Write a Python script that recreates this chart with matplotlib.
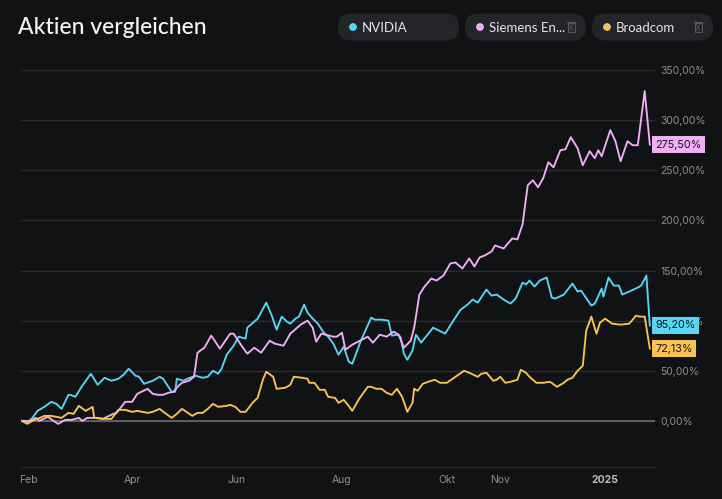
import matplotlib
matplotlib.use("Agg")
import matplotlib.pyplot as plt
import numpy as np
from matplotlib.patches import FancyBboxPatch, Circle, Rectangle

# ---------------- data ----------------
START = np.datetime64("2024-01-28")

nvda_days = [0, 3, 6, 9, 13, 17, 20, 23, 27, 28, 31, 35, 40, 44, 48, 52, 56, 59, 62, 66,
             68, 71, 76, 80, 82, 87, 89, 90, 94, 96, 101, 105, 108, 111, 114, 116, 119, 123,
             126, 130, 131, 137, 142, 145, 148, 151, 154, 156, 159, 161, 164, 166, 169, 172,
             175, 178, 181, 184, 187, 190, 192, 197, 203, 205, 209, 213, 215, 218, 220, 222,
             224, 227, 229, 232, 239, 246, 250, 255, 259, 262, 265, 270, 273, 276, 280, 284,
             287, 291, 293, 295, 298, 301, 305, 308, 310, 315, 320, 323, 325, 331, 333, 337,
             338, 341, 344, 347, 349, 353, 358, 360, 363, 365]
nvda_vals = [0, -2, 3, 10, 14, 19, 17, 12, 26, 26, 24, 35, 47, 36, 43, 40, 42, 46, 52, 45,
             44, 37, 40, 44, 42, 29, 29, 42, 40, 42, 45, 43, 44, 50, 47, 52, 66, 75,
             84, 82, 93, 102, 118, 106, 91, 104, 99, 97, 102, 104, 116, 108, 102, 97,
             89, 84, 77, 66, 74, 59, 57, 80, 103, 101, 101, 100, 85, 86, 84, 67,
             61, 70, 86, 78, 93, 87, 98, 111, 116, 121, 118, 131, 125, 126, 121, 117,
             122, 138, 136, 140, 134, 140, 143, 123, 122, 126, 137, 129, 130, 115, 117, 132,
             124, 143, 135, 135, 126, 129, 133, 135, 145, 95.20]

enr_days = [0, 5, 8, 10, 15, 21, 25, 29, 33, 35, 38, 44, 47, 53, 55, 60, 64, 67, 73, 76,
            79, 82, 85, 88, 91, 93, 97, 100, 102, 106, 110, 112, 115, 117, 121, 123, 128,
            131, 135, 139, 144, 147, 152, 156, 162, 166, 169, 171, 174, 181, 183, 186, 188,
            192, 201, 204, 208, 212, 216, 219, 222, 226, 228, 231, 234, 238, 241, 245, 249,
            252, 256, 260, 263, 266, 269, 273, 275, 280, 285, 288, 291, 294, 297, 300, 303,
            306, 309, 313, 316, 319, 323, 326, 330, 333, 335, 337, 342, 345, 348, 352, 355,
            358, 362, 365]
enr_vals = [0, 0, 3, 0, 4, -3, 1, 1, 3, 0, 3, 3, 2, 7, 8, 19, 19, 27, 32, 27,
            26, 26, 28, 29, 35, 38, 40, 44, 68, 73, 85, 80, 72, 77, 87, 87, 74,
            67, 73, 68, 80, 77, 75, 87, 96, 100, 93, 79, 87, 84, 84, 88, 71,
            76, 84, 78, 86, 84, 89, 86, 73, 80, 93, 126, 134, 142, 140, 145, 157,
            158, 152, 162, 154, 163, 165, 169, 175, 172, 182, 181, 196, 235, 240, 233, 242,
            258, 253, 270, 271, 283, 272, 255, 269, 262, 270, 264, 290, 279, 259, 279, 275,
            275, 329, 275.50]

avgo_days = [0, 3, 6, 9, 13, 17, 23, 27, 30, 33, 37, 41, 42, 47, 52, 56, 60, 64, 67, 73,
             76, 80, 83, 87, 90, 93, 99, 102, 105, 108, 111, 114, 119, 121, 124, 127, 130,
             134, 137, 140, 142, 146, 148, 153, 156, 158, 163, 166, 167, 170, 173, 176, 178,
             182, 184, 187, 189, 192, 196, 201, 203, 206, 209, 212, 215, 218, 221, 224, 227,
             228, 230, 233, 236, 240, 243, 247, 252, 257, 260, 265, 267, 270, 274, 276, 278,
             281, 284, 288, 290, 293, 295, 299, 303, 307, 311, 315, 317, 320, 323, 326, 328,
             331, 334, 336, 339, 343, 348, 353, 357, 359, 362, 365]
avgo_vals = [0, -3, 0, 2, 5, 5, 3, 8, 7, 15, 10, 14, 3, 2, 2, 11, 11, 9, 10, 8,
             9, 12, 8, 3, 7, 12, 5, 8, 8, 12, 17, 14, 15, 16, 14, 9, 9,
             18, 23, 41, 49, 44, 32, 33, 36, 44, 43, 42, 38, 38, 31, 31, 24,
             23, 18, 21, 17, 10, 22, 34, 34, 32, 32, 28, 26, 32, 24, 9, 18,
             32, 30, 37, 39, 41, 38, 38, 44, 50, 48, 44, 47, 48, 40, 41, 44,
             38, 39, 41, 51, 48, 44, 38, 38, 39, 34, 38, 41, 43, 50, 55, 90,
             104, 87, 98, 102, 97, 96, 97, 105, 104, 104, 72.13]

series_names = ["NVIDIA", "Siemens Energy", "Broadcom"]
legend_labels = ["NVIDIA", "Siemens En...", "Broadcom"]
series_days = [nvda_days, enr_days, avgo_days]
series_vals = [nvda_vals, enr_vals, avgo_vals]
series_colors = ["#55d7f3", "#f0aef5", "#f8c255"]

y_ticks = [0, 50, 100, 150, 200, 250, 300, 350]
month_dates = ["2024-02-01", "2024-04-01", "2024-06-01", "2024-08-01",
               "2024-10-01", "2024-11-01", "2025-01-01"]
month_labels = ["Feb", "Apr", "Jun", "Aug", "Okt", "Nov", "2025"]

title = "Aktien vergleichen"

# ---------------- style ----------------
BG = "#111214"
PILL = "#232529"
GRID = "#2a2c30"
ZERO = "#6a6b6e"
TICK = "#8c8e92"

W, H = 722, 499
fig = plt.figure(figsize=(W / 100, H / 100), dpi=100)
fig.patch.set_facecolor(BG)

ax = fig.add_axes([21 / W, 1 - 467 / H, (655 - 21) / W, (467 - 62) / H])
ax.set_facecolor(BG)
ax.set_xlim(-0.6, 368)
ax.set_ylim(-46, 358)

for side in ["top", "left", "right"]:
    ax.spines[side].set_visible(False)
ax.spines["bottom"].set_color("#25272a")
ax.spines["bottom"].set_linewidth(1.0)

ax.set_axisbelow(True)
ax.yaxis.grid(True, color=GRID, linewidth=1.0)
ax.axhline(0, color=ZERO, linewidth=1.2, zorder=1)

ax.yaxis.tick_right()
ax.set_yticks(y_ticks)
ax.set_yticklabels([f"{v},00%" for v in y_ticks])
ax.tick_params(axis="y", length=0, pad=4, labelsize=7.5, labelcolor=TICK)

tick_pos = [int((np.datetime64(d) - START).astype(int)) for d in month_dates]
ax.set_xticks(tick_pos)
ax.set_xticklabels(month_labels)
ax.tick_params(axis="x", length=0, pad=6, labelsize=7.5, labelcolor=TICK)
for lbl in ax.get_xticklabels():
    lbl.set_family("Inter")
    if lbl.get_text() == "2025":
        lbl.set_fontweight("bold")
        lbl.set_color("#b9bbbf")
for lbl in ax.get_yticklabels():
    lbl.set_family("Inter")

for days, vals, c in zip(series_days, series_vals, series_colors):
    ax.plot(days, vals, color=c, linewidth=1.35, solid_joinstyle="round", zorder=3)
    last = vals[-1]
    txt = f"{last:.2f}".replace(".", ",") + "%"
    ax.annotate(txt, xy=(1.0, last), xycoords=("axes fraction", "data"),
                xytext=(0, 0), textcoords="offset pixels",
                ha="left", va="center", fontsize=7.8, color="#15161a",
                family="Inter", annotation_clip=False, zorder=5,
                bbox=dict(boxstyle="square,pad=0.3", fc=c, ec="none"))

# ---------------- header ----------------
oax = fig.add_axes([0, 0, 1, 1], zorder=-1)
oax.set_xlim(0, W)
oax.set_ylim(H, 0)
oax.axis("off")
oax.patch.set_visible(False)

oax.text(18, 34, title, fontsize=16.5, color="#f4f4f5", ha="left", va="baseline",
         family="Lato", fontweight="medium")

pills = [(338, 121), (465, 121), (592, 121)]
for i, ((px, pw), lab, c) in enumerate(zip(pills, legend_labels, series_colors)):
    oax.add_patch(FancyBboxPatch((px, 13.5), pw, 27, boxstyle="round,pad=0,rounding_size=13.5",
                                 fc=PILL, ec="none"))
    oax.add_patch(Circle((px + 15, 27), 3.2, color=c))
    oax.text(px + 24, 27.5, lab, fontsize=9.5, color="#e4e5e7", ha="left", va="center",
             family="Lato")
    if i > 0:
        tx = px + pw - 18
        oax.add_patch(Rectangle((tx, 22.5), 6.5, 9.5, fc="none", ec="#55575c", lw=0.8))
        oax.plot([tx - 0.8, tx + 7.3], [21.5, 21.5], color="#55575c", lw=0.8)
        oax.plot([tx + 1.5, tx + 5], [24.5, 30], color="#55575c", lw=0.6)
        oax.plot([tx + 5, tx + 1.5], [24.5, 30], color="#55575c", lw=0.6)

fig.savefig("out.png", dpi=100, facecolor=BG)
